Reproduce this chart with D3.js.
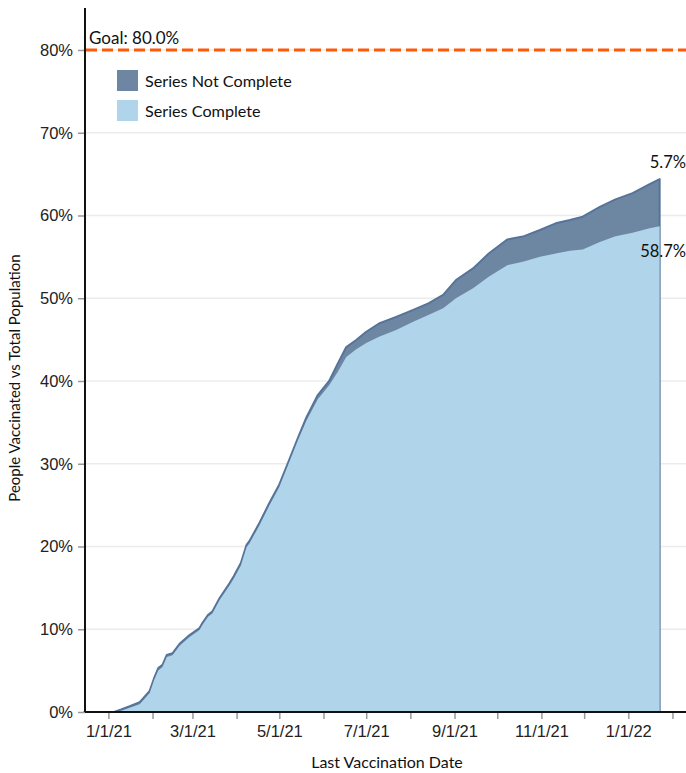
<!DOCTYPE html>
<html>
<head>
<meta charset="utf-8">
<script src="https://cdn.jsdelivr.net/npm/d3@7"></script>
<style>
  body { margin: 0; background: #fff; }
  svg { display: block; font-family: Lato, "Open Sans", sans-serif; }
  .axis path { display: none; }
  .axis line { stroke: #999; }
  .axis text { font-size: 16.5px; fill: #222; }
</style>
</head>
<body>
<div id="chart"></div>
<script>
// vaccination progress (percent of population)
var dates = ["2020-12-15", "2021-01-05", "2021-01-10", "2021-01-16", "2021-01-23", "2021-01-30",
  "2021-02-02", "2021-02-05", "2021-02-08", "2021-02-11", "2021-02-15", "2021-02-20", "2021-02-27",
  "2021-03-06", "2021-03-08", "2021-03-12", "2021-03-15", "2021-03-20", "2021-03-27", "2021-03-30",
  "2021-04-04", "2021-04-08", "2021-04-10", "2021-04-17", "2021-04-24", "2021-05-01", "2021-05-08",
  "2021-05-14", "2021-05-20", "2021-05-28", "2021-06-05", "2021-06-11", "2021-06-17", "2021-06-24",
  "2021-07-01", "2021-07-10", "2021-07-22", "2021-08-03", "2021-08-14", "2021-08-24", "2021-09-02",
  "2021-09-14", "2021-09-25", "2021-10-08", "2021-10-19", "2021-10-31", "2021-11-11", "2021-11-21",
  "2021-11-30", "2021-12-12", "2021-12-23", "2022-01-04", "2022-01-16", "2022-01-23"];

var seriesComplete = [0, 0.0, 0.15, 0.5, 0.95, 2.3,
  3.8, 5.0, 5.45, 6.65, 6.85, 8.0, 9.05,
  9.9, 10.5, 11.5, 11.9, 13.5, 15.3, 16.1,
  17.7, 19.9, 20.35, 22.55, 24.95, 27.2, 30.2,
  32.8, 35.2, 37.8, 39.5, 41.1, 42.9, 43.85,
  44.6, 45.35, 46.15, 47.15, 48.0, 48.8, 50.0,
  51.2, 52.6, 54.0, 54.4, 55.0, 55.4, 55.75,
  55.9, 56.8, 57.5, 57.9, 58.45, 58.7];

// complete + not complete
var seriesTotal = [0, 0.0, 0.3, 0.7, 1.2, 2.55,
  4.05, 5.3, 5.7, 6.9, 7.1, 8.25, 9.3,
  10.15, 10.75, 11.75, 12.15, 13.75, 15.55, 16.4,
  18.0, 20.2, 20.65, 22.85, 25.25, 27.5, 30.5,
  33.1, 35.6, 38.3, 40.0, 42.1, 44.1, 44.95,
  45.95, 46.95, 47.75, 48.6, 49.4, 50.4, 52.2,
  53.6, 55.4, 57.1, 57.45, 58.25, 59.05, 59.45,
  59.85, 61.05, 61.95, 62.7, 63.8, 64.4];

var yTicks = [0, 10, 20, 30, 40, 50, 60, 70, 80];
var goalValue = 80;
var legendLabels = ["Series Not Complete", "Series Complete"];
var colors = ["#6d87a2", "#b0d4ea"];

var W = 686, H = 773;
var parse = d3.timeParse("%Y-%m-%d");
var rows = dates.map(function(d, i) {
  return { date: parse(d), complete: seriesComplete[i], total: seriesTotal[i] };
});

var svg = d3.select("#chart").append("svg").attr("width", W).attr("height", H);

var x = d3.scaleTime()
  .domain([new Date(2020, 11, 15, 14), new Date(2022, 1, 10, 12)])
  .range([85, 686]);
var y = d3.scaleLinear().domain([0, 85]).range([712, 8.6]);

// grid
svg.append("g").selectAll("line").data(yTicks).join("line")
  .attr("x1", 85).attr("x2", W)
  .attr("y1", function(d) { return y(d); }).attr("y2", function(d) { return y(d); })
  .attr("stroke", "#ececec").attr("stroke-width", 1.5);

// areas
var areaTotal = d3.area().x(function(d) { return x(d.date); })
  .y0(y(0)).y1(function(d) { return y(d.total); });
var areaComplete = d3.area().x(function(d) { return x(d.date); })
  .y0(y(0)).y1(function(d) { return y(d.complete); });

svg.append("path").datum(rows).attr("d", areaTotal)
  .attr("fill", colors[0]).attr("stroke", "#56749a").attr("stroke-width", 2)
  .attr("stroke-linejoin", "round");
svg.append("path").datum(rows).attr("d", areaComplete)
  .attr("fill", colors[1]);

// axes
var fmtDate = function(d) {
  return (d.getMonth() + 1) + "/" + d.getDate() + "/" + String(d.getFullYear()).slice(2);
};
var xAxis = svg.append("g").attr("class", "axis").attr("transform", "translate(0,712)")
  .call(d3.axisBottom(x).ticks(d3.timeMonth.every(1)).tickSize(7).tickPadding(6)
    .tickFormat(function(d) { return d.getMonth() % 2 === 0 ? fmtDate(d) : ""; }));
xAxis.selectAll("line").attr("stroke-width", 1.5);

var yAxis = svg.append("g").attr("class", "axis").attr("transform", "translate(85,0)")
  .call(d3.axisLeft(y).tickValues(yTicks).tickSize(7).tickPadding(5)
    .tickFormat(function(d) { return d + "%"; }));
yAxis.selectAll("line").attr("stroke-width", 1.5);

svg.append("line").attr("x1", 85).attr("x2", W).attr("y1", 712).attr("y2", 712)
  .attr("stroke", "#111").attr("stroke-width", 2);
svg.append("line").attr("x1", 85).attr("x2", 85).attr("y1", 8).attr("y2", 712)
  .attr("stroke", "#111").attr("stroke-width", 2);

// goal
svg.append("line").attr("x1", 86).attr("x2", W)
  .attr("y1", y(goalValue)).attr("y2", y(goalValue))
  .attr("stroke", "#ff5a0a").attr("stroke-width", 3).attr("stroke-dasharray", "11,5");
svg.append("text").attr("x", 89).attr("y", y(goalValue) - 6)
  .attr("font-size", 17).attr("fill", "#111")
  .text("Goal: " + d3.format(".1f")(goalValue) + "%");

// legend
var leg = svg.append("g").selectAll("g").data(legendLabels).join("g")
  .attr("transform", function(d, i) { return "translate(117," + (70 + i * 30) + ")"; });
leg.append("rect").attr("width", 21).attr("height", 21)
  .attr("fill", function(d, i) { return colors[i]; });
leg.append("text").attr("x", 28).attr("y", 16.5).attr("font-size", 16.2).attr("fill", "#111")
  .text(function(d) { return d; });

// end labels
var last = rows[rows.length - 1];
var fmtPct = d3.format(".1f");
svg.append("text").attr("x", 686).attr("y", y(last.total) - 11)
  .attr("text-anchor", "end").attr("font-size", 16.5).attr("fill", "#111")
  .text(fmtPct(last.total - last.complete) + "%");
svg.append("text").attr("x", 686).attr("y", y(last.complete) + 31)
  .attr("text-anchor", "end").attr("font-size", 16.5).attr("fill", "#111")
  .text(fmtPct(last.complete) + "%");

// titles
svg.append("text").attr("x", 387).attr("y", 768).attr("text-anchor", "middle")
  .attr("font-size", 16).attr("fill", "#111").text("Last Vaccination Date");
svg.append("text").attr("transform", "translate(20,378) rotate(-90)")
  .attr("text-anchor", "middle").attr("font-size", 15).attr("fill", "#111")
  .text("People Vaccinated vs Total Population");
</script>
</body>
</html>
